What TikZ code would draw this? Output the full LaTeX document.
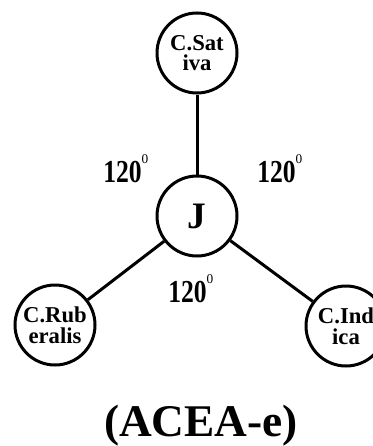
\documentclass[tikz,border=0pt]{standalone}
\usepackage{fontspec}
\setmainfont{Liberation Serif}
\usepackage{tikz}

\newcommand{\angtext}{\scalebox{0.8}[1]{120}\raisebox{14pt}{\fontsize{10}{10}\selectfont\mdseries 0}}

\tikzset{
  species/.style={draw, circle, line width=2.25pt, minimum size=60pt, inner sep=0pt, align=center, font=\bfseries\fontsize{17}{15.5}\selectfont},
  hub/.style={draw, circle, line width=2.25pt, minimum size=60pt, inner sep=0pt, font=\bfseries\fontsize{28}{30}\selectfont},
  anglelabel/.style={anchor=base west, inner sep=0pt, font=\bfseries\fontsize{24}{26}\selectfont},
  link/.style={line width=2.25pt},
}

\begin{document}
\begin{tikzpicture}[x=0.75pt,y=0.75pt,yscale=-1,xscale=1]
        \useasboundingbox (0,0) rectangle (373,446);

        % Circles
        \node [hub] (J) at (197,216) {J};
        \node [species] (sativa) at (197,53) {C.Sat\\iva};
        \node [species] (ruderalis) at (55,325) {C.Rub\\eralis};
        \node [species] (indica) at (346,326) {C.Ind\\ica};

        % Straight Lines
        \draw [link] (J) -- (sativa);
        \draw [link] (J) -- (ruderalis);
        \draw [link] (J) -- (indica);

        % Text Node
        \node [anglelabel] (aLeft) at (103,182) {\angtext};
        % Text Node
        \node [anglelabel] (aRight) at (257,182) {\angtext};
        % Text Node
        \node [anglelabel] (aBottom) at (168,302) {\angtext};
        % Text Node
        \node [anchor=base, inner sep=0pt, font=\bfseries\fontsize{34}{36}\selectfont] (title) at (201,436) {(ACEA-e)};
\end{tikzpicture}
\end{document}
